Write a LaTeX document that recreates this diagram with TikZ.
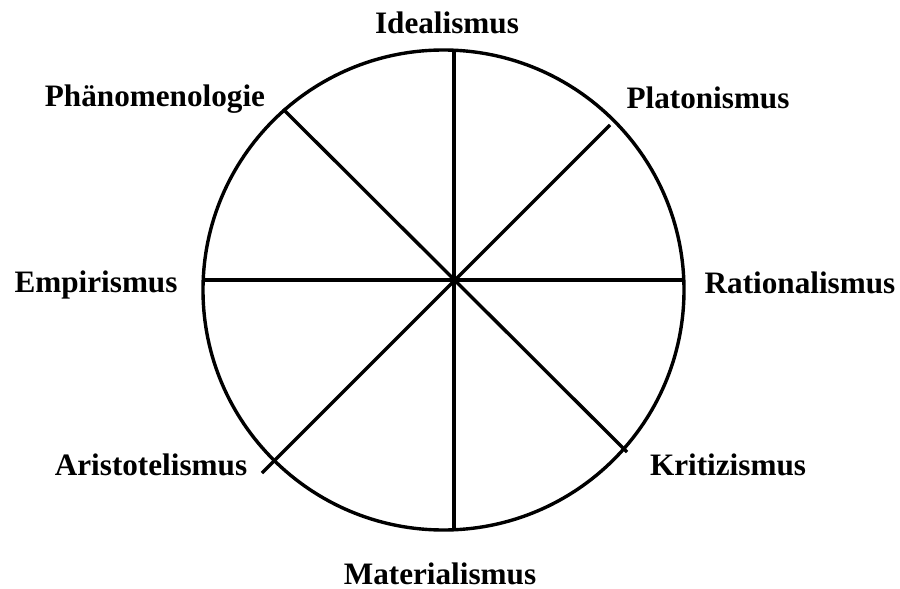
\documentclass[tikz,border=0pt]{standalone}
\usepackage{fontspec}
\setmainfont{Liberation Serif}
\begin{document}
\begin{tikzpicture}[x=0.5pt, y=-0.5pt, line width=1.7pt, every node/.style={font=\bfseries\fontsize{15.6}{18}\selectfont, anchor=base, inner sep=0pt}]
	\useasboundingbox (0,0) rectangle (900,589);
	\draw (443.5,290) ellipse [x radius=120.25pt, y radius=120pt];
	\coordinate (n) at (454,50);
	\coordinate (s) at (454,528);
	\coordinate (w) at (203,280);
	\coordinate (o) at (684,280);
	\coordinate (nw) at (283,109);
	\coordinate (so) at (627,452);
	\coordinate (no) at (610,125);
	\coordinate (sw) at (262,473);
	\draw (n) -- (s);
	\draw (w) -- (o);
	\draw (nw) -- (so);
	\draw (no) -- (sw);
	\node (ideal) at (447,33) {Idealismus};
	\node (phaeno) at (155,106) {Phänomenologie};
	\node (plato) at (708,108) {Platonismus};
	\node (empir) at (96,292) {Empirismus};
	\node (ratio) at (800,293) {Rationalismus};
	\node (aristo) at (151,475) {Aristotelismus};
	\node (kritik) at (728,475) {Kritizismus};
	\node (mater) at (440,584) {Materialismus};
\end{tikzpicture}
\end{document}
